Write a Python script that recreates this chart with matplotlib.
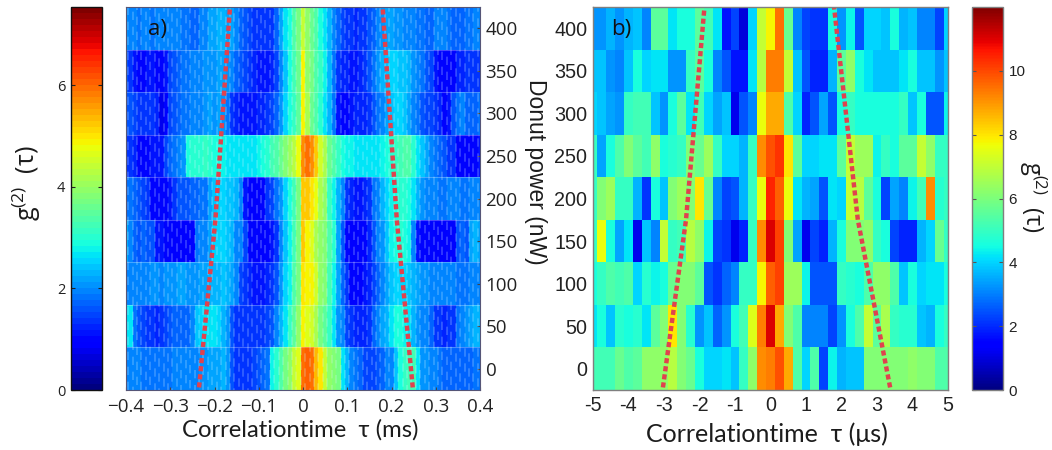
import numpy as np
import matplotlib
matplotlib.use('Agg')
import matplotlib.pyplot as plt

tau_a = [round(-0.4 + 0.01*i, 2) for i in range(81)]
tau_b = [round(-5 + 0.25*i, 2) for i in range(41)]
power = [400, 350, 300, 250, 200, 150, 100, 50, 0]

g2_a = [
 [2.1,1.9,1.9,1.8,1.9,1.9,1.8,1.9,1.9,1.9,
  1.9,2.0,1.9,1.8,1.8,1.7,1.7,1.9,2.0,2.2,
  2.2,2.3,2.3,2.2,2.2,1.9,1.7,1.6,1.5,1.4,
  1.3,1.3,1.4,1.4,1.7,2.2,2.6,2.9,3.3,3.7,
  4.4,3.9,3.6,3.3,2.9,2.7,2.3,1.9,1.7,1.5,
  1.3,1.3,1.2,1.3,1.4,1.6,1.7,2.0,2.1,2.2,
  2.2,2.1,2.1,2.0,2.0,1.9,1.8,1.8,1.7,1.7,
  1.9,2.0,1.9,1.8,1.7,1.7,1.7,1.8,1.8,1.9,
  1.9],
 [1.6,1.3,1.1,1.0,1.0,1.1,1.1,1.0,1.0,1.1,
  1.5,1.6,1.7,1.8,1.8,1.9,1.9,2.0,2.1,2.1,
  2.1,2.2,2.2,2.1,1.9,1.7,1.6,1.5,1.3,1.2,
  1.1,1.1,1.1,1.2,1.5,2.0,2.4,2.9,3.2,3.6,
  4.9,4.0,3.7,3.4,3.1,2.8,2.3,1.8,1.3,1.2,
  1.2,1.1,1.1,1.2,1.4,1.6,1.8,2.1,2.3,2.4,
  2.5,2.5,2.4,2.4,2.3,2.1,1.9,1.8,1.6,1.5,
  1.1,1.0,1.0,1.0,1.0,1.2,1.2,1.3,1.3,1.3,
  1.4],
 [1.6,1.6,1.5,1.4,1.4,1.4,1.3,1.2,0.8,1.0,
  1.5,1.6,1.7,1.8,1.8,1.9,1.9,2.0,2.1,2.2,
  2.1,2.2,2.1,1.8,1.4,1.2,1.1,1.1,1.1,1.1,
  1.2,1.2,1.3,1.5,1.7,2.1,2.5,2.9,3.1,3.5,
  4.9,4.2,3.6,3.3,3.0,2.6,2.3,1.8,1.1,1.0,
  1.0,1.1,1.2,1.2,1.2,1.3,1.6,1.8,1.9,2.2,
  2.4,2.5,2.5,2.4,2.2,2.0,1.8,1.6,1.5,1.5,
  1.3,1.2,1.0,1.1,1.6,1.8,1.9,1.7,1.7,1.7,
  1.8],
 [1.4,1.3,1.2,1.0,1.0,1.0,1.1,1.1,1.1,1.5,
  1.7,1.8,1.9,2.1,2.9,3.0,3.0,3.0,3.1,3.0,
  2.9,2.9,2.8,2.7,2.7,2.7,2.7,2.6,2.7,2.7,
  2.8,2.9,3.0,3.2,3.4,3.6,3.8,4.1,4.3,4.8,
  5.7,5.9,5.7,5.3,4.5,4.2,3.6,3.3,3.1,2.9,
  2.8,2.8,2.7,2.6,2.7,2.7,2.7,2.7,2.8,2.9,
  3.0,3.1,3.2,3.3,3.3,3.0,2.6,2.4,2.2,2.0,
  1.8,1.7,1.6,1.4,1.3,1.0,1.0,0.9,0.9,1.0,
  1.1],
 [1.8,1.8,1.7,1.6,1.5,1.4,1.0,1.0,1.0,1.0,
  1.1,1.3,1.6,1.6,1.6,1.7,1.7,1.8,1.8,2.2,
  2.4,2.5,2.5,2.4,2.4,2.3,2.0,1.1,0.9,0.9,
  0.9,1.0,1.3,1.5,1.8,2.1,2.5,2.9,3.2,3.7,
  5.2,5.2,5.0,4.8,4.2,3.9,3.1,2.8,2.3,1.9,
  1.4,1.2,1.1,1.1,1.2,1.3,1.8,2.0,2.3,2.5,
  2.8,2.9,3.0,3.0,2.9,2.6,2.3,2.1,2.0,2.0,
  1.9,1.8,1.8,1.9,1.9,2.0,1.8,1.8,1.9,1.9,
  1.9],
 [2.3,1.9,1.7,1.6,1.7,1.6,1.6,1.1,1.1,1.0,
  1.0,0.9,0.9,0.9,0.9,1.0,1.8,1.9,2.0,2.2,
  2.5,2.5,2.5,2.4,2.3,2.0,1.9,1.5,1.0,1.0,
  0.9,0.9,1.0,1.1,1.4,1.9,2.4,2.8,3.2,3.7,
  5.3,4.9,4.6,4.2,3.9,3.8,3.4,3.0,2.2,1.6,
  1.0,0.9,0.9,1.0,1.0,1.2,1.6,1.9,2.1,2.4,
  2.8,2.9,3.0,2.9,2.8,2.0,1.1,1.0,1.0,1.0,
  0.9,0.9,0.9,1.0,1.0,1.6,1.7,1.6,2.2,2.3,
  2.2],
 [2.0,1.9,1.9,2.0,2.0,2.0,2.1,2.1,2.0,2.1,
  2.1,2.1,2.2,2.2,2.1,2.1,2.1,2.2,2.2,2.3,
  2.3,2.3,2.4,2.3,2.2,1.9,1.5,1.3,1.2,1.1,
  1.1,1.1,1.2,1.3,1.6,2.1,2.5,2.8,3.3,3.7,
  5.0,4.9,4.9,4.5,4.0,3.8,3.2,2.8,2.2,1.7,
  1.3,1.0,1.0,1.0,1.1,1.2,1.5,1.7,1.9,2.2,
  2.4,2.5,2.5,2.5,2.4,2.3,2.2,2.1,2.1,2.0,
  2.0,1.9,2.0,1.9,2.0,1.8,1.8,1.8,1.9,1.9,
  1.9],
 [2.7,2.6,1.8,1.6,1.5,1.4,1.3,1.2,1.3,1.5,
  1.6,1.7,1.7,1.7,1.7,2.0,2.4,2.5,2.6,2.7,
  2.7,2.5,2.3,2.1,1.6,1.3,1.3,1.3,1.3,1.3,
  1.4,1.4,1.5,1.6,1.9,2.3,2.6,3.1,3.5,4.0,
  4.9,4.7,4.5,4.2,3.7,3.5,3.1,2.7,2.1,1.9,
  1.5,1.3,1.2,1.2,1.2,1.3,1.7,1.9,2.2,2.3,
  2.7,2.9,2.9,2.8,2.7,2.3,2.1,2.0,1.9,1.7,
  1.4,1.3,1.2,1.3,1.4,1.8,2.0,2.1,2.2,2.3,
  2.3],
 [1.9,1.9,1.9,1.9,1.8,1.8,1.8,1.8,1.8,1.8,
  1.8,1.9,1.9,1.9,1.9,2.0,2.0,2.1,2.1,2.2,
  2.2,2.2,2.3,2.1,1.6,1.3,1.3,1.3,1.4,1.5,
  1.6,1.7,1.8,2.8,3.0,3.3,3.7,3.9,4.4,4.7,
  6.0,6.1,5.9,5.4,5.0,4.4,4.0,3.8,3.7,2.7,
  2.3,2.0,1.8,1.7,1.5,1.5,1.5,1.6,1.7,1.9,
  2.0,2.4,2.9,3.1,3.2,3.2,2.6,2.1,2.1,2.0,
  1.9,1.8,1.7,1.7,1.7,1.7,1.7,1.7,1.7,1.8,
  1.8],
]

g2_b = [
 [3.3,3.3,3.6,3.3,3.6,3.9,3.0,5.6,5.6,4.2,4.5,4.5,5.6,5.2,4.2,1.8,2.4,1.1,4.0,7.0,7.8,9.5,5.8,3.0,2.4,2.2,2.2,4.6,3.2,4.4,2.5,4.0,4.0,3.8,4.6,3.6,3.8,3.0,3.0,2.4,4.0],
 [3.8,3.8,3.3,3.0,3.9,4.5,4.0,4.2,4.2,3.3,3.2,5.0,5.5,4.5,3.1,2.5,1.8,1.8,4.3,6.8,9.2,9.2,7.0,3.8,2.6,2.0,2.0,3.6,5.5,6.3,4.5,4.3,3.8,3.8,3.8,4.2,4.5,3.8,3.8,3.3,3.8],
 [4.0,3.8,3.4,3.3,5.0,5.2,5.2,3.8,3.2,4.5,5.6,4.3,5.2,4.0,3.4,3.8,1.2,2.6,3.0,7.5,8.8,8.8,5.4,4.0,2.0,2.6,3.4,2.6,4.6,5.0,4.5,4.5,4.5,4.5,4.5,5.0,3.8,4.6,2.6,2.6,4.4],
 [5.0,3.5,4.5,5.3,6.0,5.6,5.2,6.2,4.5,4.7,5.0,6.0,5.8,6.5,5.0,4.0,4.0,3.6,5.0,9.0,9.8,10.3,8.0,5.5,4.0,4.0,4.2,4.2,5.5,7.0,6.5,6.5,4.4,5.0,4.5,5.5,5.5,7.0,6.3,5.0,5.0],
 [5.0,6.0,6.5,4.9,5.0,3.7,2.2,4.5,3.8,6.0,6.5,6.0,8.0,5.8,3.0,2.4,2.5,3.6,5.0,7.5,10.4,9.6,7.6,4.2,3.6,3.4,2.6,4.2,4.0,7.0,6.8,5.6,4.5,2.4,3.4,3.0,4.4,5.2,9.0,4.8,5.0],
 [5.0,7.5,4.5,3.4,4.2,1.3,3.8,3.0,7.0,5.0,5.2,6.8,6.3,4.4,2.4,2.2,1.3,2.0,5.0,9.0,11.0,10.0,6.0,3.4,1.3,2.4,2.0,3.6,4.6,6.0,6.0,6.2,5.0,4.5,2.4,2.0,2.0,3.6,4.0,5.8,5.0],
 [4.6,4.9,5.4,5.2,5.4,4.0,4.8,4.4,4.5,5.8,6.0,6.0,5.6,2.6,2.2,2.8,3.1,5.0,5.0,7.8,9.6,10.0,6.5,6.5,4.4,2.6,2.5,2.5,5.0,4.8,4.5,5.4,6.2,6.2,5.4,3.9,4.5,4.0,4.3,4.3,4.5],
 [4.2,4.5,3.8,4.8,4.5,4.8,4.2,5.6,6.0,8.0,6.0,4.8,3.3,3.8,2.8,3.2,4.5,5.2,7.4,9.2,11.0,8.8,6.0,5.4,3.0,3.0,3.0,2.4,3.3,4.5,5.4,7.0,5.5,6.6,5.0,4.8,4.8,3.9,3.6,4.6,5.0],
 [5.2,5.2,5.2,5.8,5.4,5.5,6.2,6.2,6.2,6.8,6.0,5.8,4.5,4.0,4.0,4.2,3.9,5.0,6.2,9.0,9.2,9.8,8.8,5.4,4.0,5.4,2.4,4.4,3.6,3.8,3.8,6.0,6.0,6.0,6.0,6.0,6.3,6.0,6.0,5.4,5.4],
]

dash_a_left_x = [-0.235, -0.198, -0.165]
dash_a_right_x = [0.248, 0.212, 0.180]
dash_b_left_x = [-3.03, -2.38, -1.86]
dash_b_right_x = [3.37, 2.46, 1.79]
dash_y = [-22, 175, 425]

xt_a = [-0.4,-0.3,-0.2,-0.1,0,0.1,0.2,0.3,0.4]
xtl_a = ['\u22120.4','\u22120.3','\u22120.2','\u22120.1','0','0.1','0.2','0.3','0.4']
xt_b = [-5,-4,-3,-2,-1,0,1,2,3,4,5]
yt = [0,50,100,150,200,250,300,350,400]
vmax_a, vmax_b = 7.54, 12.0

W, H = 1052, 450
def box(l, t, r, b):
    return [l/W, 1-b/H, (r-l)/W, (b-t)/H]

plt.rcParams['font.family'] = ['Open Sans', 'DejaVu Sans']
plt.rcParams['mathtext.fontset'] = 'custom'
plt.rcParams['mathtext.rm'] = 'Liberation Sans'
plt.rcParams['mathtext.it'] = 'Liberation Sans:italic'
plt.rcParams['mathtext.default'] = 'regular'
jet64 = matplotlib.colormaps['jet'].resampled(64)
jet = matplotlib.colormaps['jet']
fig = plt.figure(figsize=(W/100, H/100), dpi=100)
RED = '#e0424e'
GREY = '#7f7f7f'
DASH = (0, (1.15, 0.68))
LW = 3.2

axa = fig.add_axes(box(126, 7, 480, 390))
ma = axa.pcolormesh(tau_a, power, np.array(g2_a), cmap=jet64, vmin=0, vmax=vmax_a, shading='nearest', rasterized=True)
axa.set_xlim(-0.4, 0.4); axa.set_ylim(-25, 425)
# faint light streaks and row seams, a rendering texture of panel a
for k, xs in enumerate(np.arange(-0.395, 0.4, 0.01)):
    axa.plot([xs, xs], [-25, 425], color='#d8f4ff', lw=1.2, alpha=0.26,
             ls=((k*37) % 17, (5, 4)), solid_capstyle='butt', zorder=2)
axa.hlines(np.arange(25, 425, 50), -0.4, 0.4, color='white', lw=0.8, alpha=0.28, zorder=2)
axa.plot(dash_a_left_x, dash_y, color=RED, lw=LW, ls=DASH, zorder=3)
axa.plot(dash_a_right_x, dash_y, color=RED, lw=LW, ls=DASH, zorder=3)
axa.yaxis.tick_right()
axa.set_yticks(yt); axa.set_xticks(xt_a); axa.set_xticklabels(xtl_a)
axa.tick_params(axis='both', labelsize=13.5, length=2.5, direction='in', color='#444444', pad=4, labelcolor='#222222')
axa.tick_params(axis='x', pad=6)
for s in axa.spines.values():
    s.set_color('#555577'); s.set_linewidth(0.8)
axa.text(0.062, 0.942, 'a)', transform=axa.transAxes, fontsize=16, ha='left', va='center', color='#111111')

axb = fig.add_axes(box(593, 7, 948, 390))
mb = axb.pcolormesh(tau_b, power, np.array(g2_b), cmap=jet64, vmin=0, vmax=vmax_b, shading='nearest', rasterized=True)
axb.set_xlim(-5, 5); axb.set_ylim(-25, 425)
axb.plot(dash_b_left_x, dash_y, color=RED, lw=LW, ls=DASH)
axb.plot(dash_b_right_x, dash_y, color=RED, lw=LW, ls=DASH)
axb.set_yticks(yt); axb.set_xticks(xt_b); axb.set_xticklabels([str(v) for v in xt_b])
axb.tick_params(axis='both', labelsize=14.2, length=0, pad=4, labelcolor='#222222', labelfontfamily='Liberation Sans')
for s in axb.spines.values():
    s.set_color(GREY); s.set_linewidth(1.0)
axb.text(0.052, 0.942, 'b)', transform=axb.transAxes, fontsize=16, ha='left', va='center', color='#111111')

cl = fig.add_axes(box(71, 7, 102, 390))
cbl = fig.colorbar(ma, cax=cl)
cbl.set_ticks([0, 2, 4, 6])
cl.yaxis.tick_left()
cl.tick_params(labelsize=10.5, length=3, direction='in', left=True, right=True, color='#222222', pad=4, labelcolor='#222222')
cbl.outline.set_edgecolor('#111111'); cbl.outline.set_linewidth(1.0)

cr = fig.add_axes(box(972, 7, 1003, 390))
sm = plt.cm.ScalarMappable(norm=mb.norm, cmap=jet)
cbr = fig.colorbar(sm, cax=cr)
cbr.set_ticks([0, 2, 4, 6, 8, 10])
cr.tick_params(labelsize=11, length=3, direction='in', left=True, right=True, color='#555555', pad=4, labelcolor='#222222', labelfontfamily='Liberation Sans')
cbr.outline.set_edgecolor(GREY); cbr.outline.set_linewidth(1.0)

TEXT = '#1c1c1c'
fig.text(300/W, 1-430/H, 'Correlationtime  \u03c4 (ms)', fontsize=17.2, ha='center', va='center', color=TEXT, family=['Lato', 'DejaVu Sans'])
fig.text(767/W, 1-434/H, 'Correlationtime  \u03c4 (\u03bcs)', fontsize=18, ha='center', va='center', color=TEXT, family=['Lato', 'DejaVu Sans'])
fig.text(535/W, 1-172/H, 'Donut power (nW)', fontsize=16.5, rotation=-90, ha='center', va='center', color=TEXT, family=['Liberation Sans'])
fig.text(27/W, 1-183/H, r'$g^{(2)}$  ($\tau$)', fontsize=18, rotation=90, ha='center', va='center', color=TEXT)
fig.text(1033/W, 1-197/H, r'$g^{(2)}$  ($\tau$)', fontsize=17, rotation=-90, ha='center', va='center', color=TEXT)
fig.savefig('out.png', dpi=100)
